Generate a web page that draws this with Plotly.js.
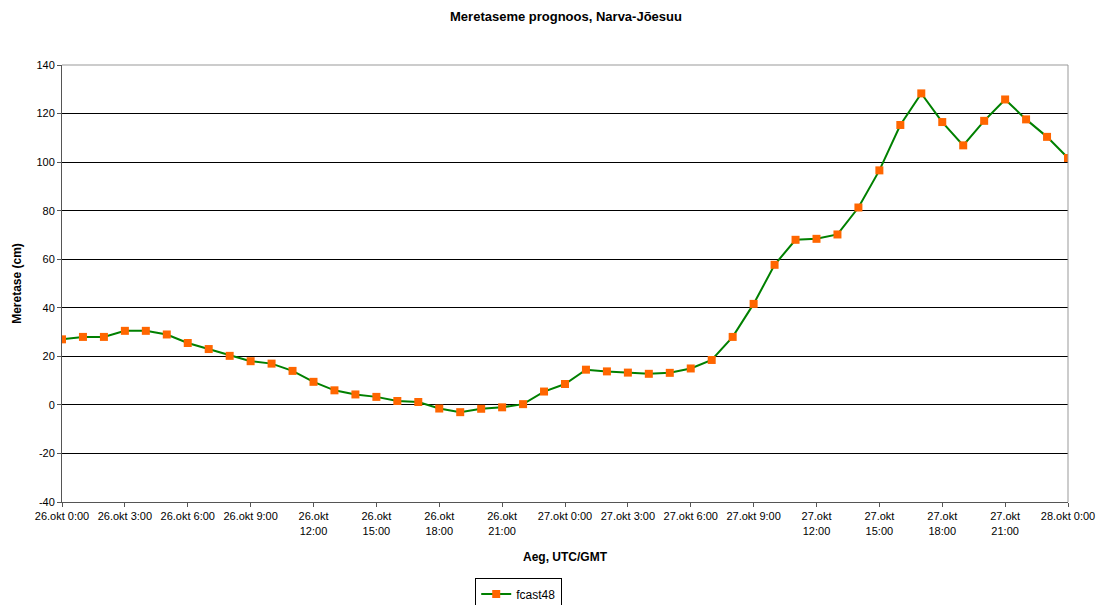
<!DOCTYPE html>
<html>
<head>
<meta charset="utf-8">
<script src="https://cdn.plot.ly/plotly-3.0.1.min.js"></script>
<style>html,body{margin:0;padding:0;background:#fff;}#chart{width:1099px;height:605px;}</style>
</head>
<body>
<div id="chart"></div>
<script>
// Hours since 26.okt 0:00
const hours = [0,1,2,3,4,5,6,7,8,9,10,11,12,13,14,15,16,17,18,19,20,21,22,23,24,
               25,26,27,28,29,30,31,32,33,34,35,36,37,38,39,40,41,42,43,44,45,46,47,48];
const fcast48 = [27,28,28,30.5,30.5,29,25.5,23,20.2,18,17,14,9.5,6,4.3,3.3,1.6,1.2,-1.5,-3,-1.6,-1,0.3,5.5,8.6,
                 14.5,13.8,13.3,12.8,13.2,15,18.5,28,41.6,57.7,68,68.4,70.2,81.3,96.6,115.3,128.3,116.5,106.9,117,125.8,117.6,110.4,101.7];
const tickHours = [0,3,6,9,12,15,18,21,24,27,30,33,36,39,42,45,48];
const tickLabels = ["26.okt 0:00","26.okt 3:00","26.okt 6:00","26.okt 9:00","26.okt<br>12:00","26.okt<br>15:00","26.okt<br>18:00","26.okt<br>21:00",
                    "27.okt 0:00","27.okt 3:00","27.okt 6:00","27.okt 9:00","27.okt<br>12:00","27.okt<br>15:00","27.okt<br>18:00","27.okt<br>21:00","28.okt 0:00"];
const yTickVals = [-40,-20,0,20,40,60,80,100,120,140];
const yTickLabels = ["-40","-20","0","20","40","60","80","100","120","140"];

const trace = {
  x: hours, y: fcast48, name: 'fcast48', type: 'scatter', mode: 'lines+markers',
  line: {color: '#008000', width: 2},
  marker: {symbol: 'square', color: '#FF6600', size: 8}
};

const layout = {
  width: 1099, height: 605,
  margin: {l: 62, r: 31, t: 65, b: 103, autoexpand: false},
  paper_bgcolor: '#fff', plot_bgcolor: '#fff',
  font: {family: 'Liberation Sans, Arial, sans-serif', color: '#000', size: 11},
  title: {text: '<b>Meretaseme prognoos, Narva-Jõesuu</b>', font: {size: 13}, x: 0.515, xanchor: 'center', y: 0.972, yanchor: 'middle'},
  xaxis: {
    range: [0, 48], tickvals: tickHours, ticktext: tickLabels, tickangle: 0,
    showgrid: false, zeroline: false, showline: true, linecolor: '#555', linewidth: 1,
    ticks: 'outside', ticklen: 4, tickcolor: '#555', automargin: false,
    tickfont: {size: 11},
    title: {text: '<b>Aeg, UTC/GMT</b>', font: {size: 12}, standoff: 17}
  },
  yaxis: {
    range: [-40, 140], tickvals: yTickVals, ticktext: yTickLabels,
    showgrid: true, gridcolor: '#000', gridwidth: 1, zeroline: false,
    showline: true, linecolor: '#555', linewidth: 1, automargin: false,
    ticks: 'outside', ticklen: 4, tickcolor: '#555',
    tickfont: {size: 11},
    title: {text: '<b>Meretase (cm)</b>', font: {size: 12}, standoff: 12}
  },
  shapes: [
    {type: 'line', xref: 'paper', yref: 'paper', x0: 0, x1: 1, y0: 1, y1: 1, line: {color: '#999', width: 1}},
    {type: 'line', xref: 'paper', yref: 'paper', x0: 1, x1: 1, y0: 0, y1: 1, line: {color: '#999', width: 1}}
  ],
  showlegend: true,
  legend: {
    x: 0.454, xanchor: 'center', yref: 'container', y: 0.044, yanchor: 'top',
    bordercolor: '#000', borderwidth: 1, bgcolor: '#fff',
    font: {size: 12}, orientation: 'h', itemwidth: 30
  }
};

Plotly.newPlot('chart', [trace], layout, {displayModeBar: false, staticPlot: true});
</script>
</body>
</html>
